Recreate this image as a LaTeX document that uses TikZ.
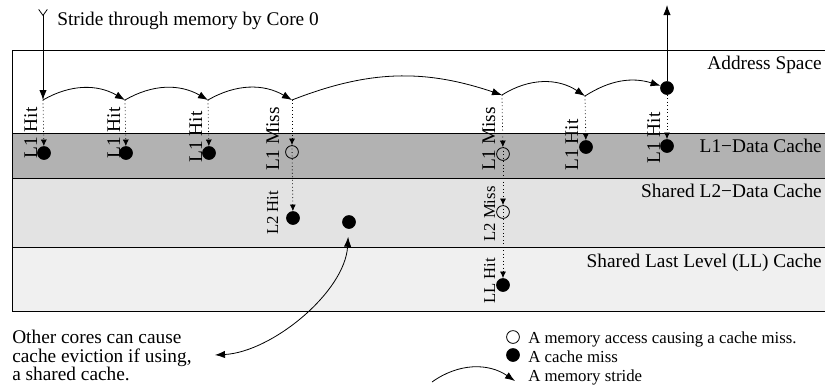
\documentclass[tikz,border=0pt]{standalone}
\usepackage{fontspec}
\setmainfont{Liberation Serif}
\usetikzlibrary{arrows.meta}
\definecolor{lunobg}{gray}{0.70}
\definecolor{ldosbg}{gray}{0.89}
\definecolor{llbg}{gray}{0.94}

\begin{document}
\begin{tikzpicture}[x=0.75pt, y=-0.75pt,
  every node/.style={inner sep=0pt, font=\fontsize{14.5}{13.9}\selectfont},
  hitdot/.style={draw, circle, fill=black, minimum size=9.8pt},
  missdot/.style={draw, circle, minimum size=9.6pt, line width=0.6pt},
  stride/.style={-{Latex[length=7.5pt,width=5.5pt]}, line width=0.6pt},
  probe/.style={dotted, line width=0.6pt, -{Latex[length=5pt,width=4.5pt]}},
  vlbl/.style={rotate=90, anchor=base},
  lowlbl/.style={rotate=90, anchor=base, font=\fontsize{12.5}{13.5}\selectfont},
  legend/.style={anchor=base west, font=\fontsize{12.6}{13.5}\selectfont}]
  \useasboundingbox (0,0) rectangle (825,387);

  % Bandas
  \fill[lunobg] (12,133) rectangle (830,178);
  \fill[ldosbg] (12,178) rectangle (830,247);
  \fill[llbg] (12,247) rectangle (830,311);
  \draw[line width=0.75pt] (830,50) -- (12,50) -- (12,311) -- (830,311);
  \draw[line width=0.75pt] (12,133) -- (830,133);
  \draw[line width=0.75pt] (12,178) -- (830,178);
  \draw[line width=0.75pt] (12,247) -- (830,247);

  \node[anchor=base east] (addr) at (822,69) {Address Space};
  \node[anchor=base east] (luno) at (822,152) {L1−Data Cache};
  \node[anchor=base east] (ldos) at (822,197) {Shared L2−Data Cache};
  \node[anchor=base east] (llc) at (822,267) {Shared Last Level (LL) Cache};

  % Nodos
  \coordinate (start) at (43,9);
  \coordinate (p1) at (43,100);
  \coordinate (p2) at (125,100);
  \coordinate (p3) at (208,100);
  \coordinate (p4) at (292,100);
  \coordinate (p5) at (502,95);
  \coordinate (p6) at (585,96);
  \coordinate (up) at (667,5);
  \node[anchor=base west] (core) at (57,25) {Stride through memory by Core 0};

  \node[hitdot] (d1) at (44,153) {};
  \node[hitdot] (d2) at (126,153) {};
  \node[hitdot] (d3) at (209,153) {};
  \node[missdot] (m4) at (292,152) {};
  \node[hitdot] (d4) at (293,218) {};
  \node[hitdot] (ev) at (349,222) {};
  \node[missdot] (m5) at (503,154) {};
  \node[missdot] (n5) at (503,212) {};
  \node[hitdot] (d5) at (503,285) {};
  \node[hitdot] (d6) at (586,147) {};
  \node[hitdot] (d7) at (667,146) {};
  \node[hitdot] (a7) at (667,88) {};

  \node[vlbl] (t1) at (37,133) {L1 Hit};
  \node[vlbl] (t2) at (120,133) {L1 Hit};
  \node[vlbl] (t3) at (202,137) {L1 Hit};
  \node[vlbl] (t4) at (279,139) {L1 Miss};
  \node[lowlbl] (t5) at (278,213) {L2 Hit};
  \node[vlbl] (t6) at (495,139) {L1 Miss};
  \node[lowlbl] (t7) at (495,214) {L2 Miss};
  \node[lowlbl] (t8) at (495,281) {LL Hit};
  \node[vlbl] (t9) at (578,145) {L1 Hit};
  \node[vlbl] (t10) at (660,138) {L1 Hit};

  % Aristas
  \draw[{Straight Barb[reversed,length=4.5pt,width=6.5pt]}-{Latex[length=7.5pt,width=5.5pt]}, line width=0.6pt] (start) -- (p1);
  \draw[stride] (p1) to[bend left=30] (p2);
  \draw[stride] (p2) to[bend left=30] (p3);
  \draw[stride] (p3) to[bend left=30] (p4);
  \draw[stride] (p4) to[bend left=20] (p5);
  \draw[stride] (p5) to[bend left=33] (p6);
  \draw[stride] (p6) to[bend left=25] (a7);
  \draw[stride] (a7) -- (up);

  \draw[probe] (p1) -- (d1);
  \draw[probe] (p2) -- (d2);
  \draw[probe] (p3) -- (d3);
  \draw[probe] (p4) -- (m4);
  \draw[probe] (m4.north) -- (d4);
  \draw[probe] (p5) -- (m5);
  \draw[probe] (m5.north) -- (n5);
  \draw[probe] (n5.north) -- (d5);
  \draw[probe] (p6) -- (d6);
  \draw[probe] (a7) -- (d7);

  % Nota
  \node[anchor=north west, align=left] (note) at (12,330)
    {Other cores can cause\\cache eviction if using,\\a shared cache.};
  \coordinate (noteend) at (215,355);
  \draw[{Latex[length=7.5pt,width=5.5pt]}-{Latex[length=7.5pt,width=5.5pt]}, line width=0.6pt, shorten <=6pt]
    (ev) .. controls (345,292) and (272,352) .. (noteend);

  % Leyenda
  \node[missdot] (lgmiss) at (513,337) {};
  \node[hitdot] (lghit) at (513,355) {};
  \coordinate (lga) at (432,382);
  \coordinate (lgb) at (515,381);
  \draw[stride] (lga) to[bend left=35] (lgb);
  \node[legend] (lgt1) at (528,343) {A memory access causing a cache miss.};
  \node[legend] (lgt2) at (528,362) {A cache miss};
  \node[legend] (lgt3) at (528,381) {A memory stride};
\end{tikzpicture}
\end{document}
